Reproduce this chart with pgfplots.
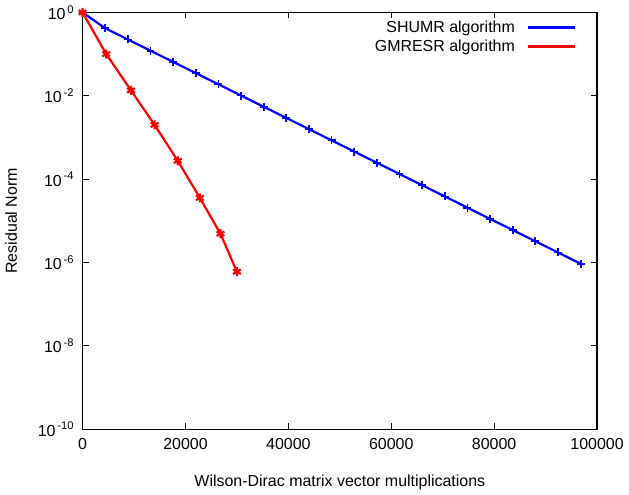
\documentclass[border=0pt]{standalone}
\usepackage{pgfplots}
\pgfplotsset{compat=1.18}
\usepackage{fontspec}
\setmainfont{Liberation Sans}
\begin{document}
\fontsize{16}{19}\selectfont
\begin{tikzpicture}
\begin{axis}[
  ymode=log,
  scale only axis,
  width=516pt, height=418pt,
  xmin=0, xmax=100000,
  ymin=1e-10, ymax=1,
  scaled x ticks=false,
  xtick={0,20000,40000,60000,80000,100000},
  xticklabels={0,20000,40000,60000,80000,100000},
  ytick={1,1e-2,1e-4,1e-6,1e-8,1e-10},
  yticklabels={10\textsuperscript{\,0},10\textsuperscript{\,-2},10\textsuperscript{\,-4},10\textsuperscript{\,-6},10\textsuperscript{\,-8},10\textsuperscript{\,-10}},
  yminorticks=false,
  tick align=inside,
  major tick length=6pt,
  every tick/.style={black, line width=1pt},
  axis line style={line width=1.2pt},
  tick label style={font=\fontsize{16}{19}\selectfont},
  label style={font=\fontsize{16}{19}\selectfont},
  yticklabel style={xshift=-3pt},
  xticklabel style={yshift=-4pt},
  xlabel={Wilson-Dirac matrix vector multiplications},
  ylabel={Residual Norm},
  xlabel style={yshift=-14pt},
  ylabel style={yshift=10pt},
  legend plot pos=right,
  legend cell align=right,
  legend style={draw=none, fill=none, at={(1,1)}, anchor=north east, xshift=-18pt, yshift=-4pt,
    font=\fontsize{16}{19}\selectfont, row sep=1pt, column sep=10pt},
  legend image code/.code={\draw[#1] (0pt,0pt) -- (47pt,0pt);},
]
\addplot[blue, line width=2.2pt, mark=+, mark size=4pt, mark options={line width=1.8pt}] coordinates {
(0,1) (4400,0.417) (8800,0.2244) (13200,0.1208) (17600,0.0650) (22000,0.0350)
(26400,0.01884) (30800,0.01014) (35200,5.46e-3) (39600,2.94e-3) (44000,1.58e-3)
(48400,8.51e-4) (52800,4.58e-4) (57200,2.47e-4) (61600,1.33e-4) (66000,7.14e-5)
(70400,3.85e-5) (74800,2.07e-5) (79200,1.11e-5) (83600,6.0e-6) (88000,3.23e-6)
(92400,1.74e-6) (96800,9.35e-7)
};
\addlegendentry{SHUMR algorithm}
\addplot[red, line width=2.2pt, mark=asterisk, mark size=4.5pt, mark options={line width=2.2pt}] coordinates {
(0,1) (4600,0.1) (9400,0.0135) (14000,0.0020) (18500,2.75e-4) (22800,3.55e-5)
(26800,4.9e-6) (30000,6.0e-7)
};
\addlegendentry{GMRESR algorithm}
\end{axis}
\end{tikzpicture}
\end{document}
